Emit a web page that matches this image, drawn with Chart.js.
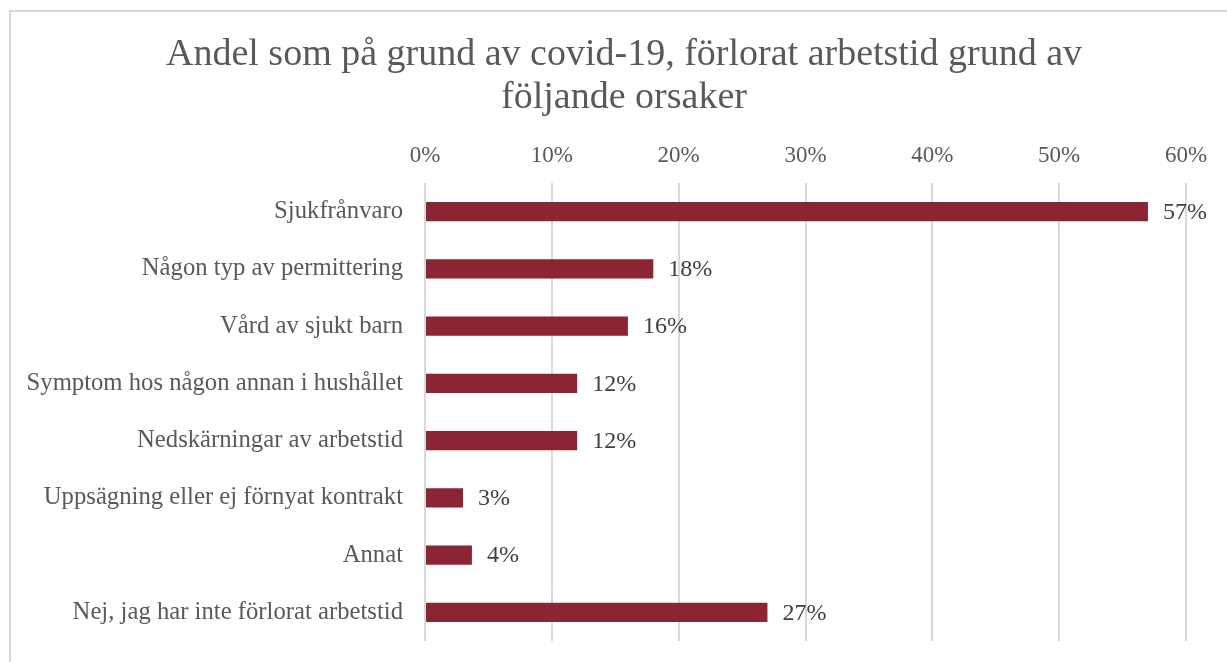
<!DOCTYPE html>
<html>
<head>
<meta charset="utf-8">
<script src="https://cdn.jsdelivr.net/npm/chart.js@4"></script>
<style>
  body { margin: 0; background: #fff; overflow: hidden; }
  #frame { position: absolute; left: 9px; top: 10px; width: 1260px; height: 700px; border: 2px solid #d9d9d9; }
  #lossChart { position: absolute; left: 0; top: 0; }
</style>
</head>
<body>
<div id="frame"></div>
<canvas id="lossChart" width="1227" height="662"></canvas>
<script>
// categories and values (share in %)
const categories = [
    'Sjukfrånvaro',
    'Någon typ av permittering',
    'Vård av sjukt barn',
    'Symptom hos någon annan i hushållet',
    'Nedskärningar av arbetstid',
    'Uppsägning eller ej förnyat kontrakt',
    'Annat',
    'Nej, jag har inte förlorat arbetstid'
];
const shares = [57, 18, 16, 12, 12, 3, 3.7, 27];
const tickValues = [0, 10, 20, 30, 40, 50, 60];
const titleLines = ['Andel som på grund av covid-19, förlorat arbetstid grund av', 'följande orsaker'];

const serif = '"Liberation Serif", "DejaVu Serif", serif';
const textGrey = '#595959';

// title is centred on the frame, not on the plot, so draw it by hand
const frameTitle = {
    id: 'frameTitle',
    afterDraw(chart) {
        const ctx = chart.ctx;
        ctx.save();
        ctx.font = '38px ' + serif;
        ctx.fillStyle = textGrey;
        ctx.textAlign = 'center';
        ctx.textBaseline = 'alphabetic';
        titleLines.forEach((line, i) => ctx.fillText(line, 624, 65 + i * 43));
        ctx.restore();
    }
};

// write the value after the end of every bar
const barLabels = {
    id: 'barLabels',
    afterDatasetsDraw(chart) {
        const ctx = chart.ctx;
        const meta = chart.getDatasetMeta(0);
        ctx.save();
        ctx.font = '24px ' + serif;
        ctx.fillStyle = '#404040';
        ctx.textAlign = 'left';
        ctx.textBaseline = 'middle';
        meta.data.forEach((bar, i) => {
            ctx.fillText(Math.round(shares[i]) + '%', bar.x + 15, bar.y + 1);
        });
        ctx.restore();
    }
};

new Chart(document.getElementById('lossChart').getContext('2d'), {
    type: 'bar',
    data: {
        labels: categories,
        datasets: [{
            data: shares,
            backgroundColor: '#8b2533',
            categoryPercentage: 1,
            barPercentage: 0.34
        }]
    },
    options: {
        indexAxis: 'y',
        responsive: false,
        animation: false,
        layout: { padding: { left: 0, right: 41, top: 118, bottom: 21 } },
        plugins: {
            legend: { display: false },
            tooltip: { enabled: false },
            title: { display: false }
        },
        scales: {
            x: {
                position: 'top',
                min: 0,
                max: 60,
                afterBuildTicks(axis) {
                    axis.ticks = tickValues.map(v => ({ value: v }));
                },
                afterFit(axis) {
                    axis.height = 65;
                    axis.paddingLeft = 0;
                    axis.paddingRight = 0;
                },
                grid: { color: '#d9d9d9', lineWidth: 2, drawTicks: false },
                border: { display: false },
                ticks: {
                    color: textGrey,
                    padding: 13,
                    font: { family: serif, size: 23 },
                    callback: v => v + '%'
                }
            },
            y: {
                afterFit(axis) {
                    axis.width = 425;
                    axis.paddingTop = 0;
                    axis.paddingBottom = 0;
                },
                grid: { display: false },
                border: { display: false },
                ticks: {
                    color: textGrey,
                    padding: 14,
                    font: { family: serif, size: 24.7 }
                }
            }
        }
    },
    plugins: [barLabels, frameTitle]
});
</script>
</body>
</html>
